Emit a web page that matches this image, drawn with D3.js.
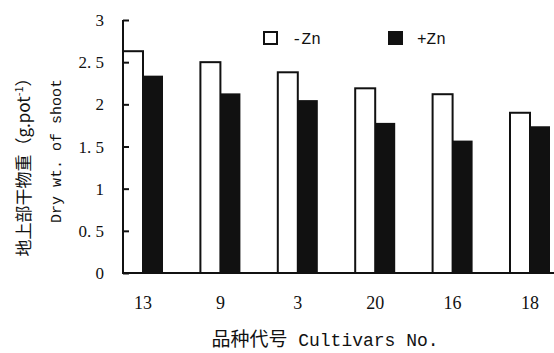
<!DOCTYPE html>
<html>
<head>
<meta charset="utf-8">
<script src="https://cdn.jsdelivr.net/npm/d3@7"></script>
<style>
  body { margin: 0; background: #fff; }
  svg text { fill: #111; }
</style>
</head>
<body>
<div id="chart"></div>
<script>
// Cultivars and shoot dry weight (g/pot)
var cultivars = ["13", "9", "3", "20", "16", "18"];
var minusZn = [2.63, 2.50, 2.38, 2.19, 2.12, 1.90];
var plusZn = [2.34, 2.13, 2.05, 1.78, 1.57, 1.74];
var yTicks = [0, 0.5, 1, 1.5, 2, 2.5, 3];
var yTickLabels = ["0", "0. 5", "1", "1. 5", "2", "2. 5", "3"];

var width = 554,
    height = 353;

var svg = d3.select("#chart")
            .append("svg")
              .attr("width", width)
              .attr("height", height);

// Scales
var x = d3.scalePoint()
          .domain(cultivars)
          .range([143, 530]);

var y = d3.scaleLinear()
          .domain([0, 3])
          .range([273, 20]);

var barW = 20;

// Bars -Zn (white)
svg.selectAll(".minus")
    .data(cultivars)
    .enter()
    .append("rect")
      .attr("class", "minus")
      .attr("x", function(d) { return x(d) - barW; })
      .attr("y", function(d, i) { return y(minusZn[i]); })
      .attr("width", barW)
      .attr("height", function(d, i) { return y(0) - y(minusZn[i]); })
      .style("fill", "white")
      .style("stroke", "#111")
      .style("stroke-width", 2);

// Bars +Zn (black)
svg.selectAll(".plus")
    .data(cultivars)
    .enter()
    .append("rect")
      .attr("class", "plus")
      .attr("x", function(d) { return x(d); })
      .attr("y", function(d, i) { return y(plusZn[i]); })
      .attr("width", barW)
      .attr("height", function(d, i) { return y(0) - y(plusZn[i]); })
      .style("fill", "#111");

// Y axis, ticks pointing inward
var yAxis = d3.axisRight(y)
              .tickValues(yTicks)
              .tickSize(6)
              .tickFormat("");
svg.append("g")
    .attr("transform", "translate(123,0)")
    .call(yAxis)
    .call(function(g) {
      g.select(".domain").remove();
      g.selectAll("line").style("stroke", "#111").style("stroke-width", 2);
    });

svg.append("line")
    .attr("x1", 123).attr("x2", 123)
    .attr("y1", y(3)).attr("y2", y(0))
    .style("stroke", "#111")
    .style("stroke-width", 2);

// Y tick labels
svg.selectAll(".ylab")
    .data(yTicks)
    .enter()
    .append("text")
      .attr("class", "ylab")
      .attr("x", 104)
      .attr("y", function(d) { return y(d) + 6; })
      .attr("text-anchor", "end")
      .style("font-family", "'Liberation Serif', serif")
      .style("font-size", "17px")
      .text(function(d, i) { return yTickLabels[i]; });

// X baseline
svg.append("line")
    .attr("x1", 123).attr("x2", 554)
    .attr("y1", y(0)).attr("y2", y(0))
    .style("stroke", "#111")
    .style("stroke-width", 2);

// X tick labels
svg.selectAll(".xlab")
    .data(cultivars)
    .enter()
    .append("text")
      .attr("class", "xlab")
      .attr("x", function(d) { return x(d); })
      .attr("y", 309)
      .attr("text-anchor", "middle")
      .style("font-family", "'Liberation Serif', serif")
      .style("font-size", "18px")
      .text(function(d) { return d; });

// X title
svg.append("text")
    .attr("x", 325)
    .attr("y", 346)
    .attr("text-anchor", "middle")
    .html("<tspan style=\"font-family:'Noto Sans CJK SC';font-size:19px\">品种代号</tspan><tspan style=\"font-family:'Liberation Mono', monospace;font-size:18px\"> Cultivars No.</tspan>");

// Y titles (rotated)
svg.append("text")
    .attr("transform", "translate(30,163) rotate(-90)")
    .attr("text-anchor", "middle")
    .style("font-family", "'Noto Sans CJK SC'")
    .style("font-size", "17px")
    .html("地上部干物重（g.pot<tspan dy='-7' font-size='11px'>-1</tspan><tspan dy='7'>）</tspan>");

svg.append("text")
    .attr("transform", "translate(61,151) rotate(-90)")
    .attr("text-anchor", "middle")
    .style("font-family", "'Liberation Mono', monospace")
    .style("font-size", "15px")
    .text("Dry wt. of shoot");

// Legend
var legend = [{label: "-Zn", fill: "white", x: 264}, {label: "+Zn", fill: "#111", x: 389}];
var lg = svg.selectAll(".legend")
            .data(legend)
            .enter()
            .append("g")
              .attr("class", "legend")
              .attr("transform", function(d) { return "translate(" + d.x + ",32)"; });
lg.append("rect")
    .attr("width", 13)
    .attr("height", 12)
    .style("fill", function(d) { return d.fill; })
    .style("stroke", "#111")
    .style("stroke-width", 2);
lg.append("text")
    .attr("x", 28)
    .attr("y", 12)
    .style("font-family", "'Liberation Mono', monospace")
    .style("font-size", "16px")
    .text(function(d) { return d.label; });
</script>
</body>
</html>
